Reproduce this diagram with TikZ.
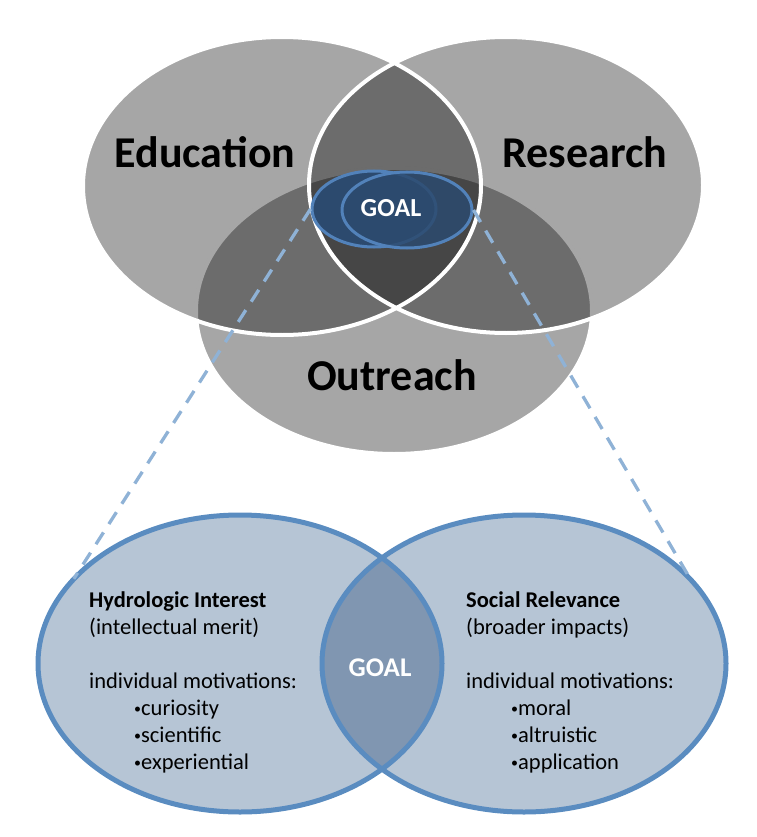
\documentclass[tikz,border=0pt]{standalone}
\usepackage{fontspec}
\setmainfont{Carlito}
\usetikzlibrary{shapes.geometric}
\definecolor{goalblue}{RGB}{44,74,110}
\definecolor{goalrim}{RGB}{82,130,186}
\definecolor{bluefill}{RGB}{182,197,213}
\definecolor{bluelap}{RGB}{128,150,177}
\definecolor{bluerim}{RGB}{90,140,192}
\definecolor{dashblue}{RGB}{143,178,214}
\newcommand\motdot{\hspace*{45pt}\raisebox{2pt}{\fontsize{14}{14}\selectfont•}}
\tikzset{
  toplabel/.style={font=\fontsize{44}{50}\selectfont\bfseries, inner sep=0},
  goallabel/.style={font=\fontsize{26}{30}\selectfont\bfseries, text=white, inner sep=0},
  motive/.style={font=\fontsize{22.5}{27}\selectfont, align=left, anchor=north west, inner sep=0},
  venn/.style={fill=black, fill opacity=.35},
  rim/.style={draw=white, line width=4pt},
  miniell/.style={ellipse, inner sep=0, minimum height=76pt, draw=goalrim, line width=3pt},
  bigell/.style={ellipse, inner sep=0, minimum width=404pt, minimum height=297pt},
  bluerimline/.style={draw=bluerim, line width=5pt},
  zoomline/.style={draw=dashblue, line width=3.3pt, dash pattern=on 14pt off 10pt},
}
\begin{document}
\begin{tikzpicture}[x=1pt,y=-1pt]
\useasboundingbox (0,0) rectangle (756,837);
% three circles
\coordinate (educ) at (282,186);
\coordinate (resc) at (506,185);
\coordinate (outc) at (394,311);
\fill[black!35] (outc) ellipse [x radius=198pt, y radius=143pt];
\draw[rim] (outc) ellipse [x radius=198pt, y radius=143pt];
\fill[venn] (resc) ellipse [x radius=197pt, y radius=148pt];
\fill[venn] (educ) ellipse [x radius=199pt, y radius=149pt];
\draw[rim] (resc) ellipse [x radius=197pt, y radius=148pt];
\draw[rim] (educ) ellipse [x radius=199pt, y radius=149pt];
\node[toplabel] (edulab) at (205,152) {Education};
\node[toplabel] (reslab) at (585,152) {Research};
\node[toplabel] (outlab) at (392,375) {Outreach};
% small goal
\node[miniell, minimum width=124pt, fill=goalblue] (goalL) at (374,209) {};
\node[miniell, minimum width=130pt, fill=goalblue, fill opacity=.85] (goalR) at (407,210) {};
\node[goallabel] (goaltop) at (391,208) {GOAL};
% two circles
\node[bigell, fill=bluefill] (hyd) at (240,663.5) {};
\node[bigell, fill=bluefill] (soc) at (524,663.5) {};
\begin{scope}
  \clip (hyd.center) ellipse [x radius=202pt, y radius=148.5pt];
  \fill[bluelap] (soc.center) ellipse [x radius=202pt, y radius=148.5pt];
\end{scope}
\draw[bluerimline] (hyd.center) ellipse [x radius=202pt, y radius=148.5pt];
\draw[bluerimline] (soc.center) ellipse [x radius=202pt, y radius=148.5pt];
\node[goallabel, font=\fontsize{27}{30}\selectfont\bfseries] (goalbot) at (380,668) {GOAL};
\node[motive] (hydtext) at (89,592) {\textbf{Hydrologic Interest}\\(intellectual merit)\\[27pt]
  individual motivations:\\\motdot curiosity\\\motdot scientific\\\motdot experiential};
\node[motive] (soctext) at (466,592) {\textbf{Social Relevance}\\(broader impacts)\\[27pt]
  individual motivations:\\\motdot moral\\\motdot altruistic\\\motdot application};
% zoom lines
\draw[zoomline] (goalL.west) -- (hyd.153);
\draw[zoomline] (goalR.east) -- (soc.27);
\end{tikzpicture}
\end{document}
